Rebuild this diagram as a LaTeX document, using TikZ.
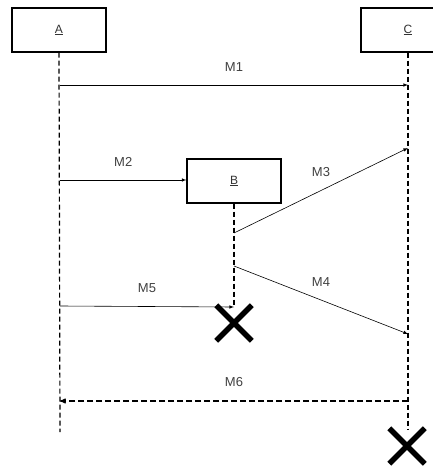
\documentclass[tikz,border=0pt]{standalone}
\usepackage{fontspec}
\setmainfont{Liberation Sans}
\usetikzlibrary{arrows,shapes.misc}

\begin{document}
\begin{tikzpicture}[x=1pt,y=-1pt,>=latex,
  obj node/.style={draw,line width=1.1pt,minimum width=94pt,minimum height=44pt,inner sep=0pt,font=\fontsize{12}{14}\selectfont,text=black!80},
  life line/.style={line width=1.2pt,dash pattern=on 5pt off 3pt},
  msg/.style={->,line width=0.6pt},
  kill node/.style={cross out,draw,line width=5.5pt,minimum size=30pt,inner sep=0pt}]
  \useasboundingbox (0,0) rectangle (433,468);

  \node[obj node] (A) at (59,30) {\underline{A}};
  \node[obj node] (B) at (234,181) {\underline{B}};
  \node[obj node] (C) at (408,30) {\underline{C}};

  % lifelines
  \coordinate (Aend) at (60,432);
  \coordinate (Bend) at (234,307);
  \coordinate (Cend) at (408,430);
  \draw[life line] (A.south) -- (Aend);
  \draw[life line] (B.south) -- (Bend);
  \draw[life line] (C.south) -- (Cend);

  % message points
  \coordinate (a1) at (60,85);
  \coordinate (c1) at (408,85);
  \coordinate (a2) at (60,180);
  \coordinate (b3) at (234,233);
  \coordinate (c3) at (408,148);
  \coordinate (b4) at (234,266);
  \coordinate (c4) at (408,334);
  \coordinate (a5) at (60,306);
  \coordinate (c6) at (408,401);
  \coordinate (a6) at (60,401);

\path[every node/.style={font=\fontsize{13}{15}\selectfont,text=black!75,above=10pt}]
  (a1) edge[msg] node {M1} (c1)
  (a2) edge[msg] node {M2} (a2 -| B.west)
  (b3) edge[msg] node {M3} (c3)
  (b4) edge[msg] node {M4} (c4)
  (a5) edge[msg] node {M5} (Bend)
  (c6) edge[->,>=stealth',line width=1.1pt,dash pattern=on 6pt off 3pt] node {M6} (a6)
;

  \node[kill node] (Bkill) at (234,323) {};
  \node[kill node] (Ckill) at (407,446) {};
\end{tikzpicture}
\end{document}
